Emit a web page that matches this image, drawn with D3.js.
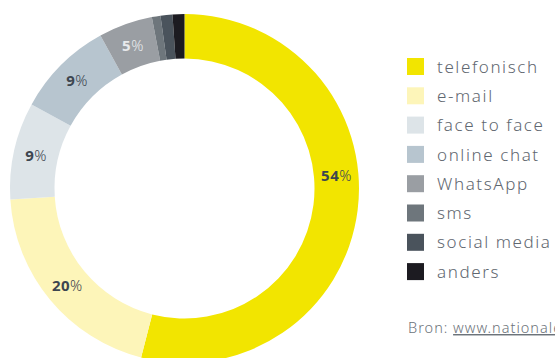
<!DOCTYPE html>
<html>
<head>
<meta charset="utf-8">
<script src="https://cdn.jsdelivr.net/npm/d3@7"></script>
<style>
  body { margin: 0; background: #fff; overflow: hidden; }
  svg { display: block; font-family: "Noto Sans", Lato, sans-serif; }
</style>
</head>
<body>
<div id="chart"></div>
<script>
// kanalen en aandelen (procent)
var categories = ["telefonisch", "e-mail", "face to face", "online chat", "WhatsApp", "sms", "social media", "anders"];
var values = [54, 20, 9, 9, 5, 0.8, 1.1, 1.1];
var colors = ["#f2e500", "#fdf5b9", "#dde4e8", "#b7c5cf", "#9a9ea3", "#6e767c", "#4a535c", "#1c1b21"];
var labelColors = ["#3d4650", "#3d4650", "#3d4650", "#3d4650", "#e8eaec", "#3d4650", "#3d4650", "#3d4650"];
var source = "www.nationaleombudsman.nl";

var width = 555, height = 358;
var cx = 184.5, cy = 188.5, outer = 174.5, inner = 130;

var svg = d3.select("#chart").append("svg")
  .attr("width", width)
  .attr("height", height);

var data = categories.map(function(c, i) { return {name: c, value: values[i], i: i}; });

var pie = d3.pie().sort(null).value(function(d) { return d.value; });
var arc = d3.arc().innerRadius(inner).outerRadius(outer);
var labelArc = d3.arc().innerRadius(152).outerRadius(152);

var g = svg.append("g").attr("transform", "translate(" + cx + "," + cy + ")");

var arcs = pie(data);

g.selectAll("path")
  .data(arcs)
  .enter().append("path")
  .attr("d", arc)
  .attr("fill", function(d) { return colors[d.data.i]; });

// labels, only for slices of 5% and up
var lab = g.selectAll("text.lbl")
  .data(arcs.filter(function(d) { return d.data.value >= 5; }))
  .enter().append("text")
  .attr("class", "lbl")
  .attr("text-anchor", "middle")
  .attr("dy", "0.36em")
  .attr("font-size", 15)
  .attr("letter-spacing", 0.5)
  .attr("fill", function(d) { return labelColors[d.data.i]; })
  .attr("transform", function(d) {
    var p = labelArc.centroid(d);
    // biggest slice: label sits at 3 o'clock
    if (d.index === 0) p = [152, -13];
    return "translate(" + p[0] + "," + p[1] + ")";
  });

lab.append("tspan").attr("font-weight", 700).text(function(d) { return Math.round(d.data.value); });
lab.append("tspan").attr("font-weight", 300).text("%");

// legend
var legend = svg.append("g").attr("transform", "translate(407,58)");
var row = legend.selectAll("g")
  .data(data)
  .enter().append("g")
  .attr("transform", function(d, i) { return "translate(0," + (i * 29.3) + ")"; });

row.append("rect")
  .attr("width", 17).attr("height", 17)
  .attr("fill", function(d) { return colors[d.i]; });

row.append("text")
  .attr("x", 30).attr("y", 8.5).attr("dy", "0.36em")
  .attr("font-size", 17)
  .attr("font-weight", 300)
  .attr("fill", "#5f6770")
  .attr("letter-spacing", 1.6)
  .text(function(d) { return d.name; });

// bron
var bron = svg.append("text")
  .attr("x", 408).attr("y", 333)
  .attr("font-size", 14.5)
  .attr("font-weight", 300)
  .attr("fill", "#6c737a")
  .attr("letter-spacing", 1);
bron.append("tspan").text("Bron: ");
bron.append("tspan").attr("text-decoration", "underline").text(source);
</script>
</body>
</html>
